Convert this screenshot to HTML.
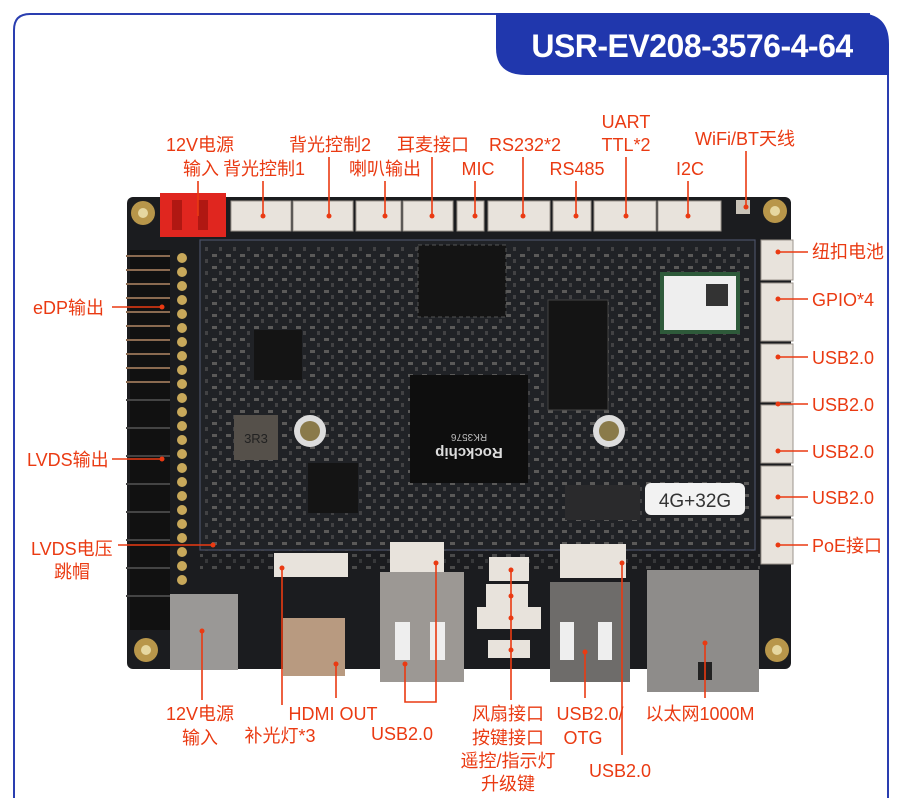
<!DOCTYPE html>
<html><head><meta charset="utf-8"><style>
html,body{margin:0;padding:0;background:#fff;width:900px;height:798px;overflow:hidden}
svg{display:block}
text{font-family:"Liberation Sans","Noto Sans CJK SC",sans-serif}
.l{fill:#ea3a12;font-size:18px}
.ln{stroke:#ea3a12;stroke-width:1.6;fill:none}
.d{fill:#ea3a12}
</style></head><body>
<svg width="900" height="798" viewBox="0 0 900 798" xmlns="http://www.w3.org/2000/svg">
<defs>
<pattern id="smd" width="14" height="12" patternUnits="userSpaceOnUse">
<rect x="2" y="2" width="5" height="3" fill="#6a6866"/><rect x="9" y="7" width="3" height="4" fill="#4a4a4c"/>
</pattern>
</defs>
<!-- frame -->
<path d="M14 798 V30 Q14 14 30 14 H870" fill="none" stroke="#2a3eb0" stroke-width="2"/>
<line x1="888" y1="60" x2="888" y2="798" stroke="#2a3eb0" stroke-width="2"/>
<path d="M496 13 H858 Q889 13 889 44 V75 H526 Q496 75 496 48 Z" fill="#2037ad"/>
<text x="692" y="57" fill="#fff" font-size="32" font-weight="bold" text-anchor="middle" style="letter-spacing:-0.5px">USR-EV208-3576-4-64</text>

<!-- board -->
<rect x="127" y="197" width="664" height="472" rx="6" fill="#1b1c1f"/>
<rect x="200" y="240" width="555" height="310" fill="#202226" stroke="#4a5066" stroke-width="1.2"/>
<rect x="205" y="245" width="545" height="300" fill="url(#smd)" opacity="0.8"/>
<rect x="200" y="550" width="560" height="20" fill="url(#smd)" opacity="0.6"/>
<!-- mount holes -->
<circle cx="143" cy="213" r="12" fill="#b8964a"/><circle cx="143" cy="213" r="5" fill="#e6d7a0"/>
<circle cx="775" cy="211" r="12" fill="#b8964a"/><circle cx="775" cy="211" r="5" fill="#e6d7a0"/>
<circle cx="146" cy="650" r="12" fill="#b8964a"/><circle cx="146" cy="650" r="5" fill="#e6d7a0"/>
<circle cx="777" cy="650" r="12" fill="#b8964a"/><circle cx="777" cy="650" r="5" fill="#e6d7a0"/>
<!-- chips -->
<rect x="418" y="245" width="88" height="72" fill="#141414" stroke="#555" stroke-dasharray="4 3"/>
<rect x="548" y="300" width="60" height="110" fill="#141414" stroke="#444"/>
<rect x="410" y="375" width="118" height="108" fill="#0e0e0e"/>
<text x="469" y="462" fill="#ddd" font-size="15" font-weight="bold" text-anchor="middle" transform="rotate(180 469 455)">Rockchip</text>
<text x="469" y="440" fill="#bbb" font-size="10" text-anchor="middle" transform="rotate(180 469 437)">RK3576</text>
<rect x="254" y="330" width="48" height="50" fill="#141414"/>
<rect x="234" y="415" width="44" height="45" fill="#55504a"/>
<text x="256" y="443" fill="#222" font-size="13" text-anchor="middle">3R3</text>
<rect x="308" y="463" width="50" height="50" fill="#141414"/>
<rect x="565" y="485" width="75" height="35" fill="#2a2a2c"/>
<!-- standoffs -->
<circle cx="310" cy="431" r="16" fill="#ddd"/><circle cx="310" cy="431" r="10" fill="#8a7a4a"/>
<circle cx="609" cy="431" r="16" fill="#ddd"/><circle cx="609" cy="431" r="10" fill="#8a7a4a"/>

<!-- red connector -->
<rect x="160" y="193" width="66" height="44" fill="#e0261f"/>
<rect x="172" y="200" width="10" height="30" fill="#b01812"/><rect x="198" y="200" width="10" height="30" fill="#b01812"/>
<!-- top white connectors -->
<g fill="#e8e3dc" stroke="#9c968e" stroke-width="1">
<rect x="231" y="201" width="60" height="30"/><rect x="293" y="201" width="60" height="30"/>
<rect x="356" y="201" width="45" height="30"/><rect x="403" y="201" width="50" height="30"/>
<rect x="457" y="201" width="27" height="30"/><rect x="488" y="201" width="62" height="30"/>
<rect x="553" y="201" width="38" height="30"/><rect x="594" y="201" width="62" height="30"/>
<rect x="658" y="201" width="63" height="30"/>
</g>
<rect x="736" y="200" width="14" height="14" fill="#c9c3b8"/>
<!-- right connectors -->
<g fill="#e8e3dc" stroke="#9c968e" stroke-width="1">
<rect x="761" y="240" width="32" height="40"/><rect x="761" y="283" width="32" height="58"/>
<rect x="761" y="344" width="32" height="58"/><rect x="761" y="405" width="32" height="58"/>
<rect x="761" y="466" width="32" height="50"/><rect x="761" y="519" width="32" height="45"/>
</g>
<!-- left header -->
<rect x="130" y="250" width="40" height="380" fill="#111"/>
<g stroke="#8a6a50" stroke-width="2">
<line x1="126" y1="256" x2="170" y2="256"/><line x1="126" y1="270" x2="170" y2="270"/><line x1="126" y1="284" x2="170" y2="284"/><line x1="126" y1="298" x2="170" y2="298"/><line x1="126" y1="312" x2="170" y2="312"/><line x1="126" y1="326" x2="170" y2="326"/><line x1="126" y1="340" x2="170" y2="340"/><line x1="126" y1="354" x2="170" y2="354"/><line x1="126" y1="368" x2="170" y2="368"/><line x1="126" y1="382" x2="170" y2="382"/>
</g>
<g stroke="#444" stroke-width="2">
<line x1="126" y1="400" x2="170" y2="400"/><line x1="126" y1="428" x2="170" y2="428"/><line x1="126" y1="456" x2="170" y2="456"/><line x1="126" y1="484" x2="170" y2="484"/><line x1="126" y1="512" x2="170" y2="512"/><line x1="126" y1="540" x2="170" y2="540"/><line x1="126" y1="568" x2="170" y2="568"/><line x1="126" y1="596" x2="170" y2="596"/>
</g>
<g fill="#c8a85a">
<circle cx="182" cy="258" r="5"/><circle cx="182" cy="272" r="5"/><circle cx="182" cy="286" r="5"/><circle cx="182" cy="300" r="5"/><circle cx="182" cy="314" r="5"/><circle cx="182" cy="328" r="5"/><circle cx="182" cy="342" r="5"/><circle cx="182" cy="356" r="5"/><circle cx="182" cy="370" r="5"/><circle cx="182" cy="384" r="5"/><circle cx="182" cy="398" r="5"/><circle cx="182" cy="412" r="5"/><circle cx="182" cy="426" r="5"/><circle cx="182" cy="440" r="5"/><circle cx="182" cy="454" r="5"/><circle cx="182" cy="468" r="5"/><circle cx="182" cy="482" r="5"/><circle cx="182" cy="496" r="5"/><circle cx="182" cy="510" r="5"/><circle cx="182" cy="524" r="5"/><circle cx="182" cy="538" r="5"/><circle cx="182" cy="552" r="5"/><circle cx="182" cy="566" r="5"/><circle cx="182" cy="580" r="5"/>
</g>
<!-- wifi module -->
<rect x="660" y="272" width="80" height="62" fill="#2e5a3a"/>
<rect x="664" y="276" width="72" height="54" fill="#eee"/>
<rect x="706" y="284" width="22" height="22" fill="#333"/>
<!-- 4G+32G -->
<rect x="645" y="483" width="100" height="32" rx="6" fill="#f2f2f2"/>
<text x="695" y="507" fill="#333" font-size="19" text-anchor="middle">4G+32G</text>
<!-- bottom -->
<rect x="170" y="594" width="68" height="76" fill="#9a9896"/>
<rect x="274" y="553" width="74" height="24" fill="#e8e3dc"/>
<rect x="283" y="618" width="62" height="58" fill="#b89a80"/>
<rect x="390" y="542" width="54" height="30" fill="#e8e3dc"/>
<rect x="380" y="572" width="84" height="110" fill="#9c9894"/>
<rect x="395" y="622" width="15" height="38" fill="#eee"/><rect x="430" y="622" width="15" height="38" fill="#eee"/>
<rect x="489" y="557" width="40" height="24" fill="#e8e3dc"/><rect x="486" y="584" width="42" height="24" fill="#e8e3dc"/>
<rect x="477" y="607" width="64" height="22" fill="#e8e3dc"/><rect x="488" y="640" width="42" height="18" fill="#e8e3dc"/>
<rect x="560" y="544" width="66" height="34" fill="#e8e3dc"/>
<rect x="550" y="582" width="80" height="100" fill="#6e6c6a"/>
<rect x="560" y="622" width="14" height="38" fill="#eee"/><rect x="598" y="622" width="14" height="38" fill="#eee"/>
<rect x="647" y="570" width="112" height="122" fill="#8e8c8a"/>
<rect x="698" y="662" width="14" height="18" fill="#222"/>

<!-- labels top -->
<g class="l" text-anchor="middle">
<text x="200" y="151">12V电源</text><text x="201" y="175">输入</text>
<text x="264" y="175">背光控制1</text><text x="330" y="151">背光控制2</text>
<text x="385" y="175">喇叭输出</text><text x="433" y="151">耳麦接口</text>
<text x="478" y="175">MIC</text><text x="525" y="151">RS232*2</text>
<text x="577" y="175">RS485</text><text x="626" y="128">UART</text><text x="626" y="151">TTL*2</text>
<text x="690" y="175">I2C</text><text x="745" y="145">WiFi/BT天线</text>
</g>
<g class="ln">
<line x1="198" y1="181" x2="198" y2="216"/><line x1="263" y1="181" x2="263" y2="216"/>
<line x1="329" y1="157" x2="329" y2="216"/><line x1="385" y1="181" x2="385" y2="216"/>
<line x1="432" y1="157" x2="432" y2="216"/><line x1="475" y1="181" x2="475" y2="216"/>
<line x1="523" y1="157" x2="523" y2="216"/><line x1="576" y1="181" x2="576" y2="216"/>
<line x1="626" y1="157" x2="626" y2="216"/><line x1="688" y1="181" x2="688" y2="216"/>
<line x1="746" y1="151" x2="746" y2="207"/>
</g>
<g class="d"><circle cx="263" cy="216" r="2.5"/><circle cx="329" cy="216" r="2.5"/><circle cx="385" cy="216" r="2.5"/><circle cx="432" cy="216" r="2.5"/><circle cx="475" cy="216" r="2.5"/><circle cx="523" cy="216" r="2.5"/><circle cx="576" cy="216" r="2.5"/><circle cx="626" cy="216" r="2.5"/><circle cx="688" cy="216" r="2.5"/><circle cx="746" cy="207" r="2.5"/></g>

<!-- right labels -->
<g class="l">
<text x="812" y="258">纽扣电池</text><text x="812" y="306">GPIO*4</text>
<text x="812" y="364">USB2.0</text><text x="812" y="411">USB2.0</text>
<text x="812" y="458">USB2.0</text><text x="812" y="504">USB2.0</text>
<text x="812" y="552">PoE接口</text>
</g>
<g class="ln">
<line x1="778" y1="252" x2="808" y2="252"/><line x1="778" y1="299" x2="808" y2="299"/>
<line x1="778" y1="357" x2="808" y2="357"/><line x1="778" y1="404" x2="808" y2="404"/>
<line x1="778" y1="451" x2="808" y2="451"/><line x1="778" y1="497" x2="808" y2="497"/>
<line x1="778" y1="545" x2="808" y2="545"/>
</g>
<g class="d"><circle cx="778" cy="252" r="2.5"/><circle cx="778" cy="299" r="2.5"/><circle cx="778" cy="357" r="2.5"/><circle cx="778" cy="404" r="2.5"/><circle cx="778" cy="451" r="2.5"/><circle cx="778" cy="497" r="2.5"/><circle cx="778" cy="545" r="2.5"/></g>

<!-- left labels -->
<g class="l">
<text x="33" y="314">eDP输出</text><text x="27" y="466">LVDS输出</text>
<text x="31" y="555">LVDS电压</text><text x="54" y="578">跳帽</text>
</g>
<g class="ln">
<line x1="112" y1="307" x2="162" y2="307"/><line x1="112" y1="459" x2="162" y2="459"/>
<line x1="118" y1="545" x2="213" y2="545"/>
</g>
<g class="d"><circle cx="162" cy="307" r="2.5"/><circle cx="162" cy="459" r="2.5"/><circle cx="213" cy="545" r="2.5"/></g>

<!-- bottom labels -->
<g class="l" text-anchor="middle">
<text x="200" y="720">12V电源</text><text x="200" y="744">输入</text>
<text x="333" y="720">HDMI OUT</text><text x="280" y="742">补光灯*3</text>
<text x="402" y="740">USB2.0</text>
<text x="508" y="720">风扇接口</text><text x="508" y="744">按键接口</text>
<text x="508" y="767">遥控/指示灯</text><text x="508" y="790">升级键</text>
<text x="590" y="720">USB2.0/</text><text x="583" y="744">OTG</text>
<text x="620" y="777">USB2.0</text><text x="700" y="720">以太网1000M</text>
</g>
<g class="ln">
<line x1="202" y1="631" x2="202" y2="700"/><line x1="282" y1="568" x2="282" y2="705"/>
<line x1="336" y1="664" x2="336" y2="698"/>
<polyline points="405,664 405,702 436,702 436,563"/>
<line x1="511" y1="570" x2="511" y2="700"/>
<line x1="585" y1="652" x2="585" y2="698"/><line x1="622" y1="563" x2="622" y2="755"/>
<line x1="705" y1="643" x2="705" y2="698"/>
</g>
<g class="d"><circle cx="202" cy="631" r="2.5"/><circle cx="282" cy="568" r="2.5"/><circle cx="336" cy="664" r="2.5"/><circle cx="405" cy="664" r="2.5"/><circle cx="436" cy="563" r="2.5"/><circle cx="511" cy="570" r="2.5"/><circle cx="511" cy="596" r="2.5"/><circle cx="511" cy="618" r="2.5"/><circle cx="511" cy="650" r="2.5"/><circle cx="585" cy="652" r="2.5"/><circle cx="622" cy="563" r="2.5"/><circle cx="705" cy="643" r="2.5"/></g>
</svg>
</body></html>
